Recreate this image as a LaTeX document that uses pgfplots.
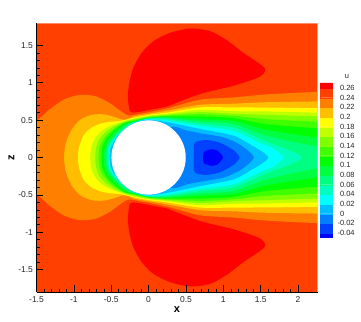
\documentclass[border=0pt]{standalone}
\usepackage{pgfplots}
\usepackage{pgfplotstable}
\usepackage{fontspec}
\setmainfont{Liberation Sans}
\pgfplotsset{compat=1.18}
\definecolor{c00}{HTML}{FF0000}
\definecolor{c01}{HTML}{FF4000}
\definecolor{c02}{HTML}{FF8000}
\definecolor{c03}{HTML}{FFBF00}
\definecolor{c04}{HTML}{FFFF00}
\definecolor{c05}{HTML}{BFFF00}
\definecolor{c06}{HTML}{80FF00}
\definecolor{c07}{HTML}{40FF00}
\definecolor{c08}{HTML}{00FF00}
\definecolor{c09}{HTML}{00FF40}
\definecolor{c10}{HTML}{00FF80}
\definecolor{c11}{HTML}{00FFBF}
\definecolor{c12}{HTML}{00FFFF}
\definecolor{c13}{HTML}{00BFFF}
\definecolor{c14}{HTML}{0080FF}
\definecolor{c15}{HTML}{0040FF}
\definecolor{c16}{HTML}{0000FF}
\pgfplotstableread[row sep=\\]{x z\\0.241 0.68\\0 0.635\\-0.116 0.612\\-0.21 0.602\\-0.255 0.63\\-0.277 0.816\\-0.259 0.996\\-0.206 1.197\\-0.094 1.399\\0.063 1.556\\0.286 1.668\\0.554 1.726\\0.822 1.691\\1.046 1.57\\1.269 1.399\\1.47 1.265\\1.559 1.188\\1.537 1.121\\1.448 1.063\\1.135 0.96\\0.688 0.85\\0.241 0.68\\}\lobe
\pgfplotstableread[row sep=\\]{x z\\-1.7 -0.1\\-1.7 0.3\\-1.5 0.49\\-1.43 0.55\\-1.323 0.646\\-1.144 0.771\\-0.965 0.83\\-0.853 0.839\\-0.697 0.816\\-0.518 0.726\\-0.384 0.628\\-0.295 0.57\\-0.25 0.56\\-0.116 0.585\\0 0.605\\0.241 0.655\\0.688 0.773\\1.135 0.804\\1.582 0.845\\2.26 0.878\\2.6 0.88\\2.6 -0.1\\}\tA
\pgfplotstableread[row sep=\\]{x z\\-1.108 -0.188\\-1.13 0\\-1.108 0.188\\-1.032 0.368\\-0.92 0.502\\-0.764 0.57\\-0.608 0.578\\-0.474 0.547\\-0.362 0.511\\-0.295 0.502\\-0.2 0.55\\0 0.585\\0.241 0.625\\0.688 0.705\\1.135 0.72\\1.582 0.74\\2.26 0.75\\2.6 0.75\\2.6 -0.1\\}\tB
\pgfplotstableread[row sep=\\]{x z\\-0.929 -0.143\\-0.943 0\\-0.929 0.143\\-0.867 0.3\\-0.764 0.399\\-0.63 0.457\\-0.496 0.48\\-0.384 0.489\\-0.2 0.533\\0 0.57\\0.241 0.6\\0.688 0.67\\1.135 0.67\\1.582 0.668\\2.26 0.66\\2.6 0.66\\2.6 -0.1\\}\tC
\pgfplotstableread[row sep=\\]{x z\\-0.764 -0.143\\-0.778 0\\-0.764 0.143\\-0.72 0.255\\-0.63 0.354\\-0.518 0.421\\-0.384 0.466\\-0.272 0.505\\-0.2 0.52\\0 0.56\\0.241 0.585\\0.688 0.638\\1.135 0.62\\1.582 0.616\\2.26 0.6\\2.6 0.6\\2.6 -0.1\\}\tD
\pgfplotstableread[row sep=\\]{x z\\-0.698 -0.143\\-0.711 0\\-0.698 0.143\\-0.653 0.255\\-0.572 0.345\\-0.474 0.412\\-0.362 0.466\\-0.25 0.5\\0 0.55\\0.241 0.572\\0.688 0.607\\1.135 0.585\\1.582 0.57\\2.26 0.55\\2.6 0.54\\2.6 -0.1\\}\tE
\pgfplotstableread[row sep=\\]{x z\\-0.653 -0.143\\-0.666 0\\-0.653 0.143\\-0.608 0.242\\-0.532 0.331\\-0.443 0.403\\-0.34 0.46\\-0.2 0.5\\0 0.54\\0.241 0.56\\0.688 0.58\\1.135 0.558\\1.582 0.513\\2.26 0.48\\2.6 0.47\\2.6 -0.1\\}\tF
\pgfplotstableread[row sep=\\]{x z\\-0.617 -0.143\\-0.63 0\\-0.617 0.143\\-0.576 0.233\\-0.505 0.323\\-0.416 0.399\\-0.317 0.466\\-0.2 0.49\\0 0.534\\0.241 0.55\\0.688 0.55\\1.135 0.526\\1.582 0.446\\2.26 0.39\\2.6 0.37\\2.6 -0.1\\}\tG
\pgfplotstableread[row sep=\\]{x z\\-0.585 -0.134\\-0.599 0\\-0.585 0.134\\-0.55 0.224\\-0.474 0.314\\-0.393 0.39\\-0.295 0.457\\-0.2 0.48\\0 0.53\\0.241 0.54\\0.688 0.513\\1.135 0.49\\1.582 0.37\\2.26 0.266\\2.6 0.24\\2.6 -0.1\\}\tH
\pgfplotstableread[row sep=\\]{x z\\-0.563 -0.121\\-0.572 0\\-0.563 0.121\\-0.527 0.21\\-0.451 0.3\\-0.371 0.376\\-0.273 0.448\\-0.2 0.475\\0 0.524\\0.241 0.528\\0.688 0.482\\1.135 0.446\\1.582 0.29\\2.26 0.145\\2.6 0.12\\2.6 -0.05\\}\tI
\pgfplotstableread[row sep=\\]{x z\\-0.541 -0.121\\-0.55 0\\-0.541 0.121\\-0.505 0.21\\-0.429 0.296\\-0.353 0.367\\-0.25 0.444\\-0.1 0.5\\0 0.52\\0.241 0.512\\0.688 0.45\\1.135 0.4\\1.582 0.21\\1.85 0.11\\2.05 0\\1.85 -0.11\\}\tJ
\pgfplotstableread[row sep=\\]{x z\\-0.523 -0.121\\-0.532 0\\-0.523 0.121\\-0.487 0.2\\-0.416 0.287\\-0.335 0.363\\-0.228 0.435\\-0.1 0.495\\0 0.515\\0.241 0.495\\0.688 0.42\\1.135 0.356\\1.5 0.19\\1.65 0.13\\1.8 0\\1.65 -0.13\\}\tK
\pgfplotstableread[row sep=\\]{x z\\-0.51 -0.121\\-0.519 0\\-0.51 0.121\\-0.474 0.2\\-0.402 0.3\\-0.322 0.375\\-0.206 0.46\\-0.1 0.492\\0 0.507\\0.241 0.476\\0.688 0.383\\1.135 0.293\\1.4 0.15\\1.6 0\\1.4 -0.15\\}\tL
\pgfplotstableread[row sep=\\]{x z\\0 -0.2\\0 0\\0.28 0.4\\0.51 0.36\\0.688 0.325\\1 0.27\\1.224 0.17\\1.405 0\\1.224 -0.17\\}\tM
\pgfplotstableread[row sep=\\]{x z\\0.607 -0.166\\0.607 0\\0.607 0.166\\0.643 0.215\\0.778 0.233\\0.957 0.197\\1.135 0.098\\1.215 0\\1.135 -0.098\\}\tN
\pgfplotstableread[row sep=\\]{x z\\0.743 -0.076\\0.73 0\\0.743 0.076\\0.823 0.107\\0.912 0.098\\0.993 0\\0.912 -0.098\\}\tO
\pgfplotsset{fillband/.style={fill=#1,draw=none,smooth,tension=0.45}}
\newcommand{\band}[2]{%
  \addplot[fillband=#1] table[x=x,y=z]{#2};
  \addplot[fillband=#1] table[x=x,y expr=-\thisrow{z}]{#2};}
\newcommand{\swatch}[3]{\addplot[fill=#1,draw=#1,line width=0.2pt] coordinates {(0,#2)(1,#2)(1,#3)(0,#3)(0,#2)};}
\begin{document}
\begin{tikzpicture}[x=1pt,y=1pt]
\useasboundingbox (0,0) rectangle (361,321);
\begin{axis}[
  at={(36.5pt,29pt)},anchor=south west,
  scale only axis,width=281pt,height=269pt,
  xmin=-1.5,xmax=2.26,ymin=-1.8,ymax=1.8,
  axis on top,
  axis x line*=bottom,axis y line*=left,
  axis line style={black,line width=0.9pt,-},
  xtick={-1.5,-1,-0.5,0,0.5,1,1.5,2},
  xticklabels={-1.5,-1,-0.5,0,0.5,1,1.5,2},
  ytick={-1.5,-1,-0.5,0,0.5,1,1.5},
  yticklabels={-1.5,-1,-0.5,0,0.5,1,1.5},
  minor x tick num=4,minor y tick num=4,
  tick align=inside,
  major tick length=6.5pt,minor tick length=3pt,
  every tick/.style={black,line width=0.7pt},
  minor tick style={black,line width=0.5pt},
  tick label style={font=\fontsize{8.5}{10}\selectfont,text=black!85},
  xticklabel style={yshift=-1pt},
  xlabel={\textbf{x}},ylabel={\textbf{z}},
  xlabel style={font=\fontsize{11}{12}\selectfont,yshift=3pt},
  ylabel style={font=\fontsize{11}{12}\selectfont,yshift=-3pt},
]
\addplot[fill=c01,draw=c01] coordinates {(-1.6,-1.9)(2.3,-1.9)(2.3,1.9)(-1.6,1.9)(-1.6,-1.9)};
\band{c00}{\lobe}
\band{c02}{\tA}
\band{c03}{\tB}
\band{c04}{\tC}
\band{c05}{\tD}
\band{c06}{\tE}
\band{c07}{\tF}
\band{c08}{\tG}
\band{c09}{\tH}
\band{c10}{\tI}
\band{c11}{\tJ}
\band{c12}{\tK}
\band{c13}{\tL}
\band{c14}{\tM}
\band{c15}{\tN}
\band{c16}{\tO}
\fill[white] (axis cs:0,0) circle [radius=0.497];
\draw[white,opacity=0.4,line width=0.8pt] (rel axis cs:0,1)--(rel axis cs:1,1)--(rel axis cs:1,0);
\end{axis}
\begin{axis}[
  at={(320pt,84pt)},anchor=south west,
  scale only axis,width=12pt,height=154pt,
  xmin=0,xmax=1,ymin=-0.0483,ymax=0.2703,
  clip=false,
  axis line style={draw=none},
  xtick=\empty,
  ytick={-0.04,-0.02,0,0.02,0.04,0.06,0.08,0.1,0.12,0.14,0.16,0.18,0.2,0.22,0.24,0.26},
  yticklabels={\llap{-}0.04,\llap{-}0.02,0,0.02,0.04,0.06,0.08,0.1,0.12,0.14,0.16,0.18,0.2,0.22,0.24,0.26},
  ytick pos=right,
  tick style={draw=none},
  major tick length=0pt,
  yticklabel style={anchor=west,xshift=4.5pt,font=\fontsize{7.5}{9}\selectfont,text=black!85},
]
\swatch{c16}{-0.0483}{-0.04}
\swatch{c15}{-0.04}{-0.02}
\swatch{c14}{-0.02}{0}
\swatch{c13}{0}{0.02}
\swatch{c12}{0.02}{0.04}
\swatch{c11}{0.04}{0.06}
\swatch{c10}{0.06}{0.08}
\swatch{c09}{0.08}{0.1}
\swatch{c08}{0.1}{0.12}
\swatch{c07}{0.12}{0.14}
\swatch{c06}{0.14}{0.16}
\swatch{c05}{0.16}{0.18}
\swatch{c04}{0.18}{0.2}
\swatch{c03}{0.2}{0.22}
\swatch{c02}{0.22}{0.24}
\swatch{c01}{0.24}{0.26}
\swatch{c00}{0.26}{0.2703}
\node[font=\fontsize{7.5}{9}\selectfont,text=black!85] at (axis cs:2.25,0.283) {u};
\end{axis}
\end{tikzpicture}
\end{document}
